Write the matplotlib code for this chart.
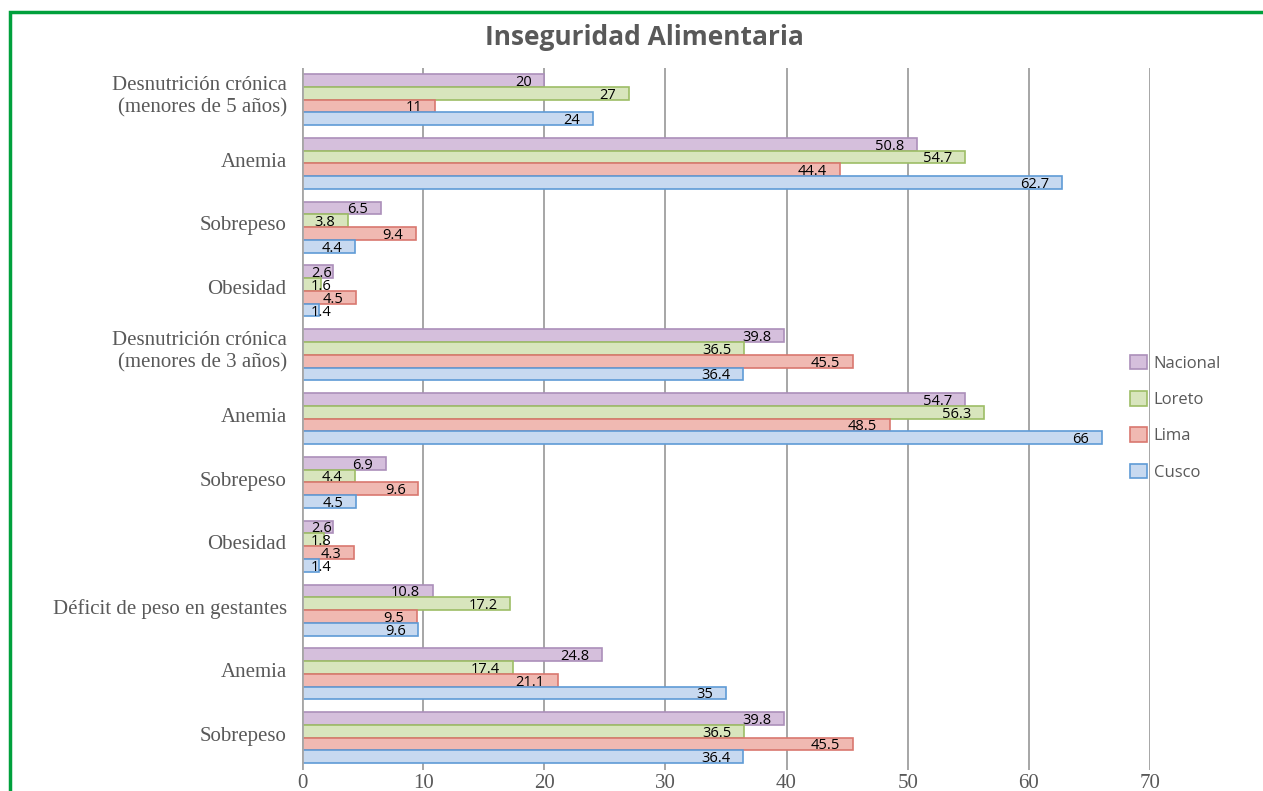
import numpy as np
import matplotlib.pyplot as plt
from matplotlib.patches import Rectangle

categories = ["Desnutrición crónica\n(menores de 5 años)", "Anemia", "Sobrepeso", "Obesidad",
              "Desnutrición crónica\n(menores de 3 años)", "Anemia", "Sobrepeso", "Obesidad",
              "Déficit de peso en gestantes", "Anemia", "Sobrepeso"]
series = ["Nacional", "Loreto", "Lima", "Cusco"]
nacional = [20, 50.8, 6.5, 2.6, 39.8, 54.7, 6.9, 2.6, 10.8, 24.8, 39.8]
loreto = [27, 54.7, 3.8, 1.6, 36.5, 56.3, 4.4, 1.8, 17.2, 17.4, 36.5]
lima = [11, 44.4, 9.4, 4.5, 45.5, 48.5, 9.6, 4.3, 9.5, 21.1, 45.5]
cusco = [24, 62.7, 4.4, 1.4, 36.4, 66, 4.5, 1.4, 9.6, 35, 36.4]

fills = ["#d5bfdc", "#d8e5bd", "#f0b9b2", "#c7d9f0"]
edges = ["#ab8fba", "#9dbd66", "#d9786f", "#5f9bd6"]

fig = plt.figure(figsize=(12.63, 7.91), dpi=100)
ax = fig.add_axes([0.2391, 0.0271, 0.6714, 0.8874])

y = np.arange(len(categories))
h = 0.2
data = [nacional, loreto, lima, cusco]
for i, vals in enumerate(data):
    pos = y - 0.3 + i * h
    ax.barh(pos, vals, height=h, color=fills[i], edgecolor=edges[i],
            linewidth=1.2, label=series[i], zorder=3)
    for p, v in zip(pos, vals):
        # small bars: label starts just right of the axis
        if v < 3.4:
            ax.text(0.75, p + 0.03, str(v), ha="left", va="center", fontsize=10.5,
                    family="Open Sans", color="black", zorder=4)
        else:
            ax.text(v - 1.05, p + 0.03, str(v), ha="right", va="center", fontsize=10.5,
                    family="Open Sans", color="black", zorder=4)

ax.set_xlim(0, 70)
ax.set_ylim(10.5, -0.5)
ax.set_xticks(np.arange(0, 71, 10))
# category labels sit a little above the group centre (ticks are invisible)
lift = np.array([0.11 if "\n" in c else 0.06 for c in categories])
ax.set_yticks(y - lift)
ax.set_yticklabels(categories, family="Liberation Serif", fontsize=15, color="#595959",
                   linespacing=1.2)
for lbl in ax.get_xticklabels():
    lbl.set_family("Liberation Serif")
    lbl.set_fontsize(15)
    lbl.set_color("#595959")
ax.tick_params(length=0, pad=3)
ax.tick_params(axis="y", pad=11)
ax.grid(axis="x", color="#a6a6a6", linewidth=1.4, zorder=0)
for s in ax.spines.values():
    s.set_visible(False)
ax.axvline(0, color="#a6a6a6", linewidth=2, zorder=5)

fig.text(0.51, 0.952, "Inseguridad Alimentaria", ha="center", va="center",
         fontsize=19, fontweight="bold", family="Open Sans", color="#595959")

leg = fig.legend(loc="center left", bbox_to_anchor=(0.883, 0.472), frameon=False,
                 prop={"family": "Open Sans", "size": 12}, handlelength=1.0,
                 handleheight=1.0, labelspacing=1.15, handletextpad=0.4)
for t in leg.get_texts():
    t.set_color("#595959")

fig.patches.append(Rectangle((10 / 1263, -0.1), 1.2, 1 - 12 / 791 + 0.1,
                             transform=fig.transFigure, fill=False,
                             edgecolor="#00a03c", linewidth=2.5))

fig.savefig("out.png", dpi=100)
